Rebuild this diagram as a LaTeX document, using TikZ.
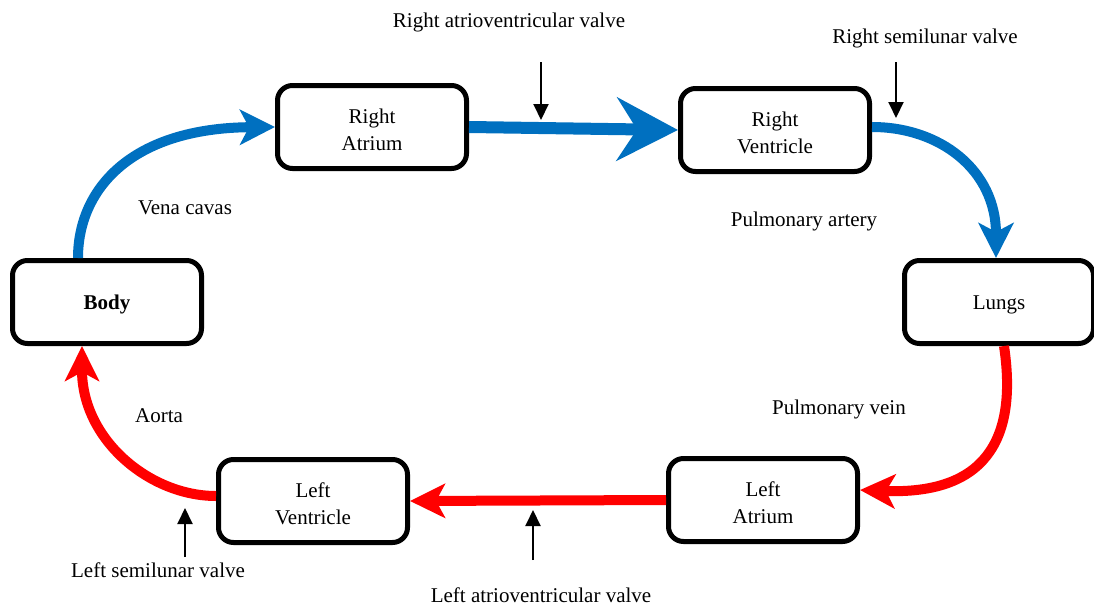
\documentclass[tikz,border=0pt]{standalone}
\usepackage{fontspec}
\setmainfont{Liberation Serif}
\usetikzlibrary{arrows.meta}
\definecolor{flowblue}{HTML}{0070C0}
\definecolor{flowred}{HTML}{FF0000}
\tikzset{
  organ/.style={draw=black, line width=5pt, rounded corners=15pt, fill=white,
    minimum width=189pt, minimum height=83pt, inner sep=0pt},
  boxtext/.style={font=\fontsize{21}{27}\selectfont, align=center,
    inner sep=0pt, yshift=-2.5pt},
  lbl/.style={font=\fontsize{21}{27}\selectfont, inner sep=0pt, yshift=-2pt},
  blueflow/.style={draw=flowblue, line width=10pt,
    -{Stealth[length=35pt, width=35pt, inset=9pt, fill=flowblue]}},
  bigblue/.style={draw=flowblue, line width=12pt,
    -{Stealth[length=61pt, width=63pt, inset=20pt, fill=flowblue]}},
  redflow/.style={draw=flowred, line width=10pt,
    -{Stealth[length=35pt, width=34pt, inset=9pt, fill=flowred]}},
  valve/.style={draw=black, line width=2pt,
    -{Triangle[length=16pt, width=15pt]}},
}
\begin{document}
\begin{tikzpicture}[x=1pt, y=-1pt]
  \useasboundingbox (0,0) rectangle (1094,605);

  % chambers and organs
  \node[organ, label={[boxtext]center:\textbf{Body}}]        (body)  at (107,302) {};
  \node[organ, label={[boxtext]center:Right\\Atrium}]        (ra)    at (372,127) {};
  \node[organ, label={[boxtext]center:Right\\Ventricle}]     (rv)    at (775,130) {};
  \node[organ, label={[boxtext]center:Lungs}]                (lungs) at (999,302) {};
  \node[organ, label={[boxtext]center:Left\\Atrium}]         (la)    at (763,500) {};
  \node[organ, label={[boxtext]center:Left\\Ventricle}]      (lv)    at (313,501) {};

  % deoxygenated blood
  \draw[blueflow] ([xshift=-29pt]body.north) .. controls (78,190) and (130,128) .. (ra.west);
  \draw[bigblue] (ra.east) -- (rv.west);
  \draw[blueflow] ([yshift=3pt]rv.east) .. controls (940,127) and (996,170) .. ([xshift=-3pt]lungs.north);

  % oxygenated blood
  \draw[redflow] ([xshift=5pt]lungs.south) .. controls (1018,440) and (985,495) .. ([yshift=10pt]la.east);
  \draw[redflow] (la.west) -- (lv.east);
  \draw[redflow] ([yshift=5pt]lv.west) .. controls (150,496) and (82,440) .. ([xshift=-25pt]body.south);

  % valves
  \coordinate (ravtop) at (541,62);   \coordinate (ravtip) at (541,120);
  \coordinate (rsltop) at (896,62);   \coordinate (rsltip) at (896,118);
  \coordinate (lavbot) at (533,560);  \coordinate (lavtip) at (533,510);
  \coordinate (lslbot) at (185,557);  \coordinate (lsltip) at (185,508);
  \draw[valve] (ravtop) -- (ravtip);
  \draw[valve] (rsltop) -- (rsltip);
  \draw[valve] (lavbot) -- (lavtip);
  \draw[valve] (lslbot) -- (lsltip);

  % labels
  \node[lbl] (lrav)  at (509,20)  {Right atrioventricular valve};
  \node[lbl] (lrsl)  at (925,36)  {Right semilunar valve};
  \node[lbl] (lpa)   at (804,219) {Pulmonary artery};
  \node[lbl] (lpv)   at (839,407) {Pulmonary vein};
  \node[lbl] (llav)  at (541,593) {Left atrioventricular valve};
  \node[lbl] (llsl)  at (158,568) {Left semilunar valve};
  \node[lbl] (laor)  at (159,414) {Aorta};
  \node[lbl] (lvc)   at (185,206) {Vena cavas};
\end{tikzpicture}
\end{document}
